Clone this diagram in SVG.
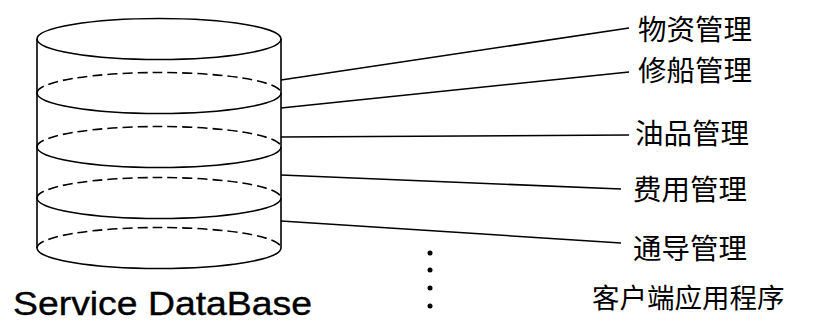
<svg xmlns="http://www.w3.org/2000/svg" width="815" height="323" viewBox="0 0 815 323">
  <style>
    .ln { fill: none; stroke: #000; stroke-width: 1.6; }
    .dash { fill: none; stroke: #000; stroke-width: 1.6; stroke-dasharray: 10 5; }
    .lbl { font-family: "Noto Sans CJK SC", "Noto Sans CJK TC", sans-serif; font-size: 28.5px; fill: #000; dominant-baseline: central; }
    .cap { font-size: 27.5px; }
    .title { font-family: "Liberation Sans", Arial, sans-serif; font-size: 34px; fill: #000; stroke: #000; stroke-width: 0.4; }
  </style>
  <rect width="815" height="323" fill="#fff"/>

  <!-- database cylinder -->
  <g id="database">
    <ellipse class="ln" cx="159" cy="39" rx="122" ry="20.5"/>
    <line class="ln" x1="37" y1="39" x2="37" y2="248"/>
    <line class="ln" x1="281" y1="39" x2="281" y2="248"/>
    <!-- layers: dashed back arc, solid front arc -->
    <path class="dash" d="M37,93 A122,20.5 0 0 1 281,93"/>
    <path class="ln" d="M37,93 A122,20.5 0 0 0 281,93"/>
    <path class="dash" d="M37,147 A122,20.5 0 0 1 281,147"/>
    <path class="ln" d="M37,147 A122,20.5 0 0 0 281,147"/>
    <path class="dash" d="M37,198 A122,20.5 0 0 1 281,198"/>
    <path class="ln" d="M37,198 A122,20.5 0 0 0 281,198"/>
    <path class="dash" d="M37,248 A122,20.5 0 0 1 281,248"/>
    <path class="ln" d="M37,248 A122,20.5 0 0 0 281,248"/>
    <text class="title" x="13" y="315" textLength="299" lengthAdjust="spacingAndGlyphs">Service DataBase</text>
  </g>

  <!-- client modules -->
  <g id="mod-materials"><text class="lbl" x="638" y="27">物资管理</text></g>
  <g id="mod-repair"><text class="lbl" x="638" y="68">修船管理</text></g>
  <g id="mod-oil"><text class="lbl" x="635" y="131">油品管理</text></g>
  <g id="mod-cost"><text class="lbl" x="633" y="187">费用管理</text></g>
  <g id="mod-nav"><text class="lbl" x="633" y="246">通导管理</text></g>
  <g id="client-apps"><text class="lbl cap" x="592" y="296">客户端应用程序</text></g>

  <!-- ellipsis dots -->
  <g id="more">
    <circle cx="430" cy="253" r="2.5"/>
    <circle cx="430" cy="270" r="2.5"/>
    <circle cx="430" cy="288" r="2.5"/>
    <circle cx="430" cy="306" r="2.5"/>
  </g>

  <!-- connectors -->
  <g id="connectors">
    <line class="ln" x1="281" y1="80" x2="629" y2="28"/>
    <line class="ln" x1="281" y1="108" x2="629" y2="72"/>
    <line class="ln" x1="281" y1="137" x2="629" y2="135"/>
    <line class="ln" x1="281" y1="175" x2="621" y2="189"/>
    <line class="ln" x1="281" y1="221" x2="621" y2="243"/>
  </g>
</svg>
